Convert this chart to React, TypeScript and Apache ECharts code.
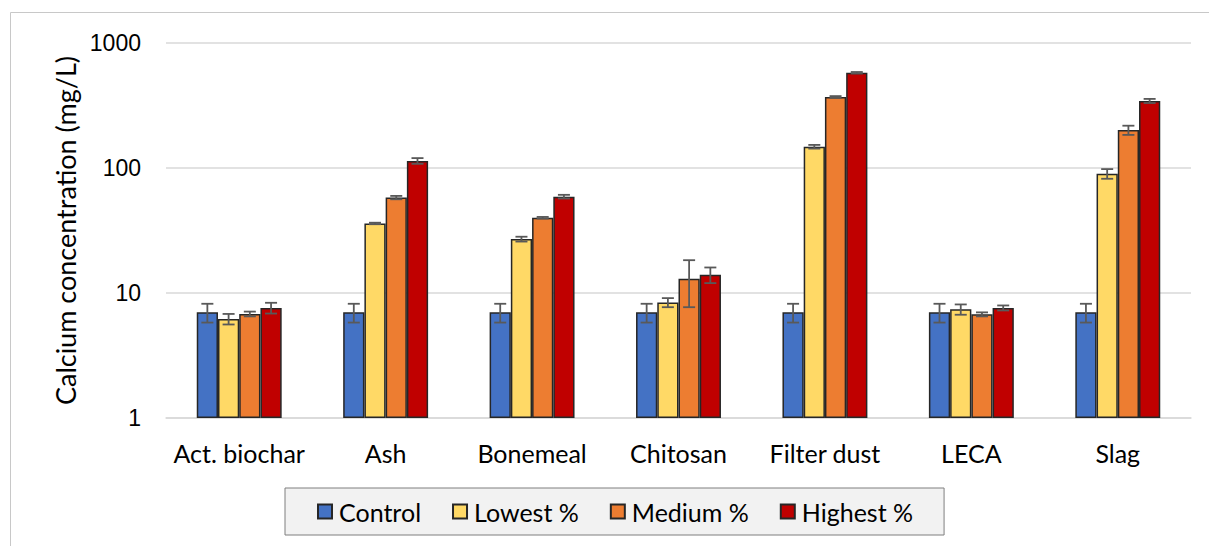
import React, { useEffect, useRef } from "react";
import * as echarts from "echarts";

const categories = ["Act. biochar", "Ash", "Bonemeal", "Chitosan", "Filter dust", "LECA", "Slag"];
const seriesNames = ["Control", "Lowest %", "Medium %", "Highest %"];
const control = [7.0, 7.0, 7.0, 7.0, 7.0, 7.0, 7.0];
const controlErr = [1.2, 1.2, 1.2, 1.2, 1.2, 1.2, 1.2];
const lowest = [6.2, 36, 27, 8.4, 148, 7.4, 90];
const lowestErr = [0.6, 0.5, 1.2, 0.7, 5, 0.7, 8];
const medium = [6.8, 58, 40, 13, 370, 6.75, 201];
const mediumErr = [0.3, 1.8, 0.6, 5.3, 6, 0.25, 17];
const highest = [7.6, 114, 59, 14, 578, 7.6, 344];
const highestErr = [0.75, 6, 2, 2, 8, 0.35, 13];
const yTicks = [1, 10, 100, 1000];

const colors = ["#4472C4", "#FFD966", "#ED7D31", "#C00000"];
const GAP = 0.42;

export default function App() {
  const ref = useRef<HTMLDivElement>(null);
  useEffect(() => {
    if (!ref.current) return;
    const chart = echarts.init(ref.current, undefined, { renderer: "svg" });
    const values = [control, lowest, medium, highest];
    const errs = [controlErr, lowestErr, mediumErr, highestErr];
    const errData: number[][] = [];
    values.forEach((vals, si) => vals.forEach((v, ci) => errData.push([ci, si, v, errs[si][ci]])));

    const font = "Lato";
    chart.setOption({
      animation: false,
      backgroundColor: "#ffffff",
      graphic: [
        {
          type: "rect",
          shape: { x: 10.5, y: 12.5, width: 1300, height: 700 },
          style: { fill: "none", stroke: "#c8c8c8", lineWidth: 1 },
          silent: true,
        },
      ],
      grid: { left: 166, right: 18, top: 43, bottom: 128 },
      legend: {
        data: seriesNames,
        left: 285,
        top: 488,
        itemWidth: 14,
        itemHeight: 14,
        itemGap: 31,
        padding: [11, 31, 11, 32],
        backgroundColor: "#f2f2f2",
        borderColor: "#7f7f7f",
        borderWidth: 1,
        icon: "rect",
        textStyle: { fontFamily: font, fontSize: 25, color: "#000", padding: [0, 0, 0, 2] },
      },
      xAxis: {
        type: "category",
        data: categories,
        axisTick: { show: false },
        axisLine: { show: true, lineStyle: { color: "#d9d9d9", width: 1.5 } },
        axisLabel: { fontFamily: font, fontSize: 25, color: "#000", margin: 22, interval: 0 },
      },
      yAxis: {
        type: "log",
        logBase: 10,
        min: yTicks[0],
        max: yTicks[yTicks.length - 1],
        name: "Calcium concentration (mg/L)",
        nameLocation: "middle",
        nameGap: 86,
        nameTextStyle: { fontFamily: font, fontSize: 27, color: "#000" },
        axisLine: { show: false },
        axisTick: { show: false },
        axisLabel: {
          fontFamily: "Liberation Sans",
          fontSize: 23,
          color: "#000",
          margin: 25,
          formatter: (v: number) => String(Math.round(v)),
        },
        splitLine: { lineStyle: { color: "#d9d9d9", width: 1.5 } },
      },
      series: [
        ...seriesNames.map((name, i) => ({
          name,
          type: "bar",
          data: values[i],
          barGap: "0%",
          barCategoryGap: GAP * 100 + "%",
          itemStyle: { color: colors[i], borderColor: "#262626", borderWidth: 1.5 },
        })),
        {
          type: "custom",
          name: "err",
          z: 5,
          encode: { x: 0, y: 2 },
          data: errData,
          renderItem: (params: any, api: any) => {
            const ci = api.value(0);
            const si = api.value(1);
            const v = api.value(2);
            const e = api.value(3);
            const catW = api.size([1, 1])[0];
            const groupW = catW * (1 - GAP);
            const barW = groupW / 4;
            const c = api.coord([ci, v]);
            const x = c[0] - groupW / 2 + barW * (si + 0.5);
            const hi = api.coord([ci, v + e])[1];
            const lo = api.coord([ci, v - e])[1];
            const cap = 6;
            const style = { stroke: "#595959", lineWidth: 1.8 };
            return {
              type: "group",
              children: [
                { type: "line", shape: { x1: x, y1: hi, x2: x, y2: lo }, style },
                { type: "line", shape: { x1: x - cap, y1: hi, x2: x + cap, y2: hi }, style },
                { type: "line", shape: { x1: x - cap, y1: lo, x2: x + cap, y2: lo }, style },
              ],
            };
          },
        },
      ],
    });
    return () => chart.dispose();
  }, []);
  return (
    <div
      ref={ref}
      style={{ position: "fixed", left: 0, top: 0, width: 1209, height: 546 }}
    />
  );
}
